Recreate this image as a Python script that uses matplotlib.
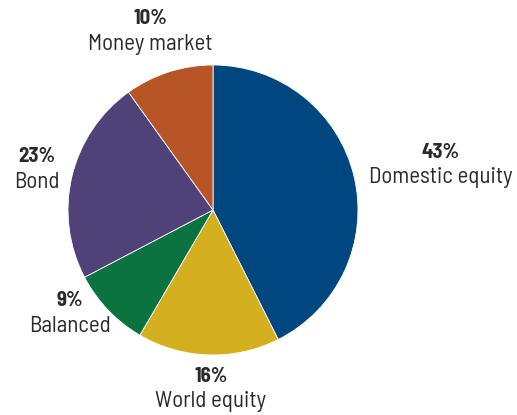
import matplotlib
matplotlib.use("Agg")
import matplotlib.pyplot as plt

categories = ["Domestic equity", "World equity", "Balanced", "Bond", "Money market"]
values = [43, 16, 9, 23, 10]
colors = ["#00467F", "#D4AF1F", "#0A7340", "#4F4278", "#B85526"]
# label anchor positions in pixel coords (x, y of percentage line)
label_px = [(441, 152), (211, 376), (70, 300), (37, 157), (150, 18)]

W, H = 517, 415
fig = plt.figure(figsize=(W / 100, H / 100), dpi=100)
cx, cy, r = 213, 210, 145
ax = fig.add_axes([(cx - r) / W, (H - cy - r) / H, 2 * r / W, 2 * r / H])
ax.pie(values, colors=colors, startangle=90, counterclock=False,
       wedgeprops=dict(edgecolor="white", linewidth=0.6))
ax.set_xlim(-1, 1)
ax.set_ylim(-1, 1)
ax.axis("off")

font = ["Barlow Semi Condensed", "DejaVu Sans"]
for cat, val, (px, py) in zip(categories, values, label_px):
    x = (px - cx) / r
    y = (cy - py) / r
    ax.text(x, y, f"{val}%", ha="center", va="center", fontsize=15,
            fontweight="bold", color="#2a2a2a", family=font, clip_on=False)
    ax.text(x, y - 26 / r, cat, ha="center", va="center", fontsize=16.5,
            color="#2a2a2a", family=font, clip_on=False)

fig.savefig("out.png", dpi=100)
